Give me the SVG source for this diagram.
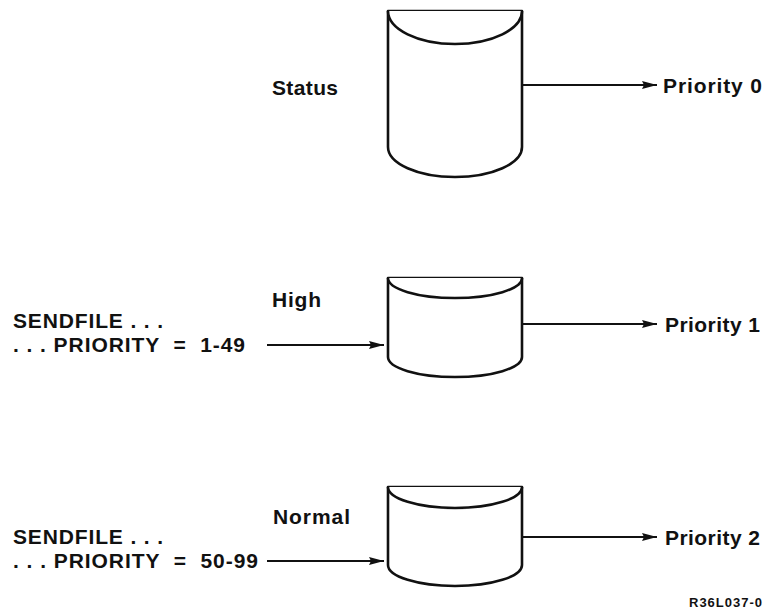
<svg xmlns="http://www.w3.org/2000/svg" width="768" height="613" viewBox="0 0 768 613">
<defs>
<marker id="ah" viewBox="0 0 15 9" refX="15" refY="4.5" markerWidth="15" markerHeight="9" markerUnits="userSpaceOnUse" orient="auto">
<path d="M0,0.5 L15,4.5 L0,8.5 L2,4.5 Z" fill="#111"/>
</marker>
<style>
.cyl{fill:#fff;stroke:#111;stroke-width:2.6;stroke-linejoin:round}
.con{fill:none;stroke:#111;stroke-width:1.8;marker-end:url(#ah)}
.t{font-family:"Liberation Sans",Arial,Helvetica,sans-serif;font-weight:bold;font-size:21px;fill:#111}
.s{font-family:"Liberation Sans",Arial,Helvetica,sans-serif;font-weight:bold;font-size:13px;fill:#111}
</style>
</defs>
<rect width="768" height="613" fill="#fff"/>
<g id="status">
<path class="cyl" d="M388,11 L522,11 L522,147 A67,30 0 0 1 388,147 Z"/>
<path class="cyl" d="M388,11 A67,33 0 0 0 522,11"/>
<text class="t" x="272" y="95" textLength="66" lengthAdjust="spacing">Status</text>
</g>
<g id="high">
<path class="cyl" d="M388,278 L522,278 L522,357 A67,20 0 0 1 388,357 Z"/>
<path class="cyl" d="M388,278 A67,20 0 0 0 522,278"/>
<text class="t" x="272" y="307" textLength="49" lengthAdjust="spacing">High</text>
</g>
<g id="normal">
<path class="cyl" d="M388,487 L522,487 L522,565 A67,21 0 0 1 388,565 Z"/>
<path class="cyl" d="M388,487 A67,21 0 0 0 522,487"/>
<text class="t" x="273" y="524" textLength="77" lengthAdjust="spacing">Normal</text>
</g>
<g id="src-high">
<text class="t" x="13" y="328" textLength="150" lengthAdjust="spacing">SENDFILE . . .</text>
<text class="t" x="13" y="352" textLength="232" lengthAdjust="spacing" xml:space="preserve">. . . PRIORITY  =  1-49</text>
</g>
<g id="src-normal">
<text class="t" x="13" y="544" textLength="150" lengthAdjust="spacing">SENDFILE . . .</text>
<text class="t" x="13" y="568" textLength="245" lengthAdjust="spacing" xml:space="preserve">. . . PRIORITY  =  50-99</text>
</g>
<g id="p0"><text class="t" x="663" y="93" textLength="99" lengthAdjust="spacing">Priority 0</text></g>
<g id="p1"><text class="t" x="665" y="332" textLength="95" lengthAdjust="spacing">Priority 1</text></g>
<g id="p2"><text class="t" x="665" y="545" textLength="95" lengthAdjust="spacing">Priority 2</text></g>
<g id="connectors">
<line class="con" x1="522" y1="85" x2="657" y2="85"/>
<line class="con" x1="522" y1="324" x2="657" y2="324"/>
<line class="con" x1="522" y1="537" x2="657" y2="537"/>
<line class="con" x1="267" y1="345" x2="384" y2="345"/>
<line class="con" x1="267" y1="561" x2="384" y2="561"/>
</g>
<text class="s" x="689" y="607" textLength="73" lengthAdjust="spacing">R36L037-0</text>
</svg>
